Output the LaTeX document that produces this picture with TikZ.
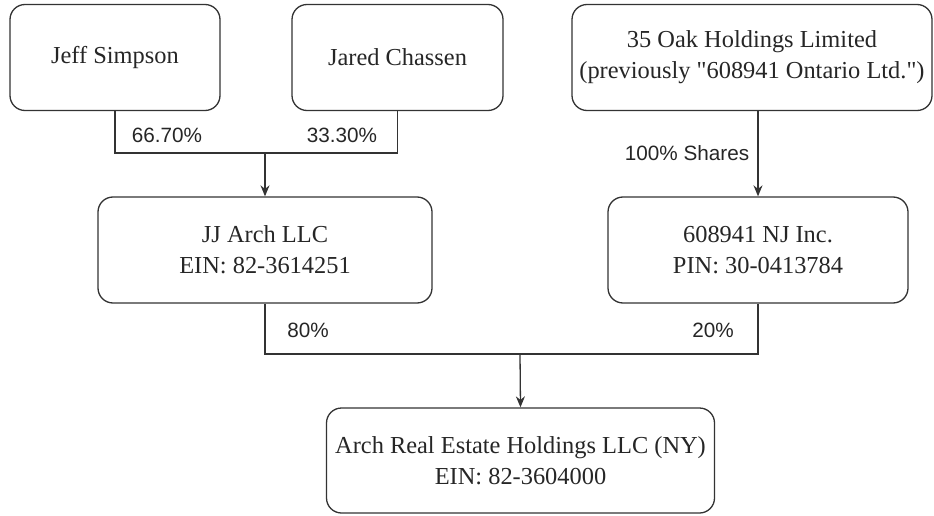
\documentclass[tikz,border=0pt]{standalone}
\usepackage{fontspec}
\setmainfont{Liberation Serif}[Ligatures=TeXOff]
\setsansfont{Liberation Sans}
\usetikzlibrary{shapes,arrows.meta,positioning}

\begin{document}
\begin{tikzpicture}[x=1pt, y=-1pt,
  entity/.style={draw=black!80, line width=1.3pt, rounded corners=15pt, align=center,
    text=black!85, font=\fontsize{24.4}{31}\selectfont, inner sep=0pt, minimum height=106pt},
  share/.style={font=\sffamily\fontsize{20.7}{24}\selectfont, text=black!85, inner sep=0pt},
  link/.style={draw=black!80, line width=1.3pt},
  own/.style={link, -{Stealth[length=11pt,width=9pt]}}]
\useasboundingbox (0,0) rectangle (934,516);

% Owners
\node[entity, minimum width=210pt] (jeff) at (115,57.5) {Jeff Simpson};
\node[entity, minimum width=211pt] (jared) at (397.5,57.5) {Jared Chassen};
\node[entity, minimum width=360pt] (oak) at (752,57.5) {35 Oak Holdings Limited\\(previously "608941 Ontario Ltd.")};

% Holding companies
\node[entity, minimum width=334pt] (jj) at (265,250) {JJ Arch LLC\\EIN: 82-3614251};
\node[entity, minimum width=300pt] (nj) at (758,250) {608941 NJ Inc.\\PIN: 30-0413784};

% Target company
\node[entity, minimum width=388pt, minimum height=105pt] (arch) at (520.5,460.5) {Arch Real Estate Holdings LLC (NY)\\EIN: 82-3604000};

% Joins
\coordinate (topbar) at (265,153);
\coordinate (botbar) at (520,354);

% Ownership lines
\draw[link] (jeff.south) |- (topbar) -| (jared.south);
\draw[own] (topbar) -- (jj.north);
\draw[own] (nj.north |- oak.south) -- (nj.north);
\draw[link] (jj.south) |- (botbar) -| (nj.south);
\draw[own] (botbar) -- (arch.north);

% Shares
\node[share] (p jeff) at (167,135) {66.70\%};
\node[share] (p jared) at (342,135) {33.30\%};
\node[share] (p oak) at (687,153) {100\% Shares};
\node[share] (p jj) at (308,330) {80\%};
\node[share] (p nj) at (713,330) {20\%};
\end{tikzpicture}
\end{document}
